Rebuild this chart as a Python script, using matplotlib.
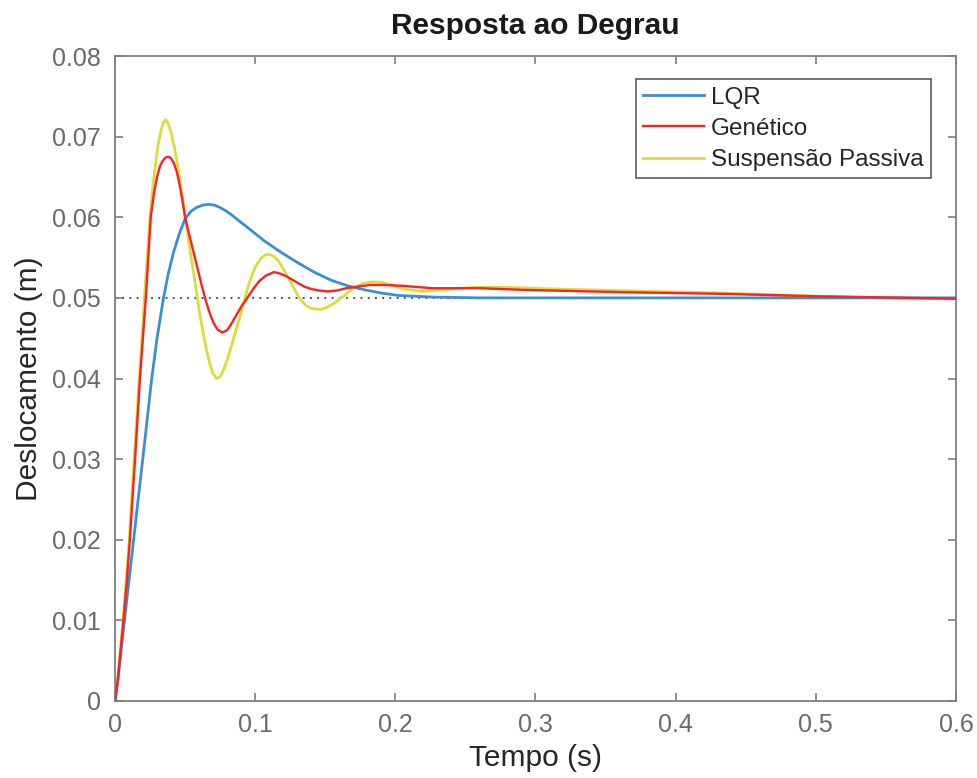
import matplotlib
matplotlib.use("Agg")
import matplotlib.pyplot as plt

plt.rcParams['font.family'] = ['Liberation Sans', 'DejaVu Sans']

# ---- data ----
t_lqr = [0, 0.002, 0.0045, 0.0068, 0.0100, 0.0133, 0.0165, 0.0198, 0.0230, 0.0262,
         0.030, 0.0346, 0.038, 0.042, 0.046, 0.050, 0.054, 0.058, 0.0625, 0.0669,
         0.071, 0.075, 0.079, 0.0824, 0.086, 0.0896, 0.097, 0.1063, 0.118, 0.130,
         0.142, 0.154, 0.166, 0.178, 0.190, 0.202, 0.214, 0.226, 0.26, 0.3, 0.4, 0.5, 0.6]
y_lqr = [0, 0.0025, 0.0065, 0.0100, 0.0150, 0.0200, 0.0250, 0.0300, 0.0350, 0.0400,
         0.0450, 0.0500, 0.0530, 0.0558, 0.0580, 0.0598, 0.0607, 0.0612, 0.0615, 0.0616,
         0.0615, 0.0612, 0.0608, 0.0604, 0.0599, 0.0594, 0.0584, 0.0571, 0.0557, 0.0544,
         0.0532, 0.0522, 0.0515, 0.0510, 0.0506, 0.0503, 0.0502, 0.0501, 0.0500, 0.0500,
         0.0500, 0.0500, 0.0500]

t_gen = [0, 0.002, 0.004, 0.0060, 0.0085, 0.0106, 0.0143, 0.0178, 0.022, 0.0255,
         0.028, 0.030, 0.032, 0.034, 0.036, 0.0382, 0.040, 0.042, 0.044, 0.046,
         0.048, 0.050, 0.053, 0.056, 0.059, 0.0615, 0.0642, 0.067, 0.070, 0.073,
         0.0765, 0.080, 0.0824, 0.086, 0.090, 0.0944, 0.099, 0.103, 0.108, 0.1135,
         0.118, 0.122, 0.126, 0.130, 0.135, 0.140, 0.146, 0.1517, 0.158, 0.165,
         0.173, 0.182, 0.192, 0.205, 0.226, 0.26, 0.29, 0.362, 0.434, 0.5, 0.6]
y_gen = [0, 0.0025, 0.0062, 0.0100, 0.0150, 0.0200, 0.0300, 0.0400, 0.0500, 0.0600,
         0.0632, 0.0650, 0.0663, 0.0670, 0.0674, 0.0675, 0.0673, 0.0667, 0.0657, 0.0641,
         0.0622, 0.0600, 0.0578, 0.0557, 0.0536, 0.0518, 0.0500, 0.0484, 0.0470, 0.0461,
         0.0457, 0.0460, 0.0466, 0.0477, 0.0489, 0.0500, 0.0512, 0.0521, 0.0528, 0.0532,
         0.0530, 0.0527, 0.0523, 0.0519, 0.0514, 0.0511, 0.0509, 0.0508, 0.0509, 0.0512,
         0.0514, 0.0516, 0.0516, 0.0515, 0.0512, 0.0512, 0.0510, 0.0507, 0.0505, 0.0502, 0.0499]

t_pas = [0, 0.002, 0.004, 0.0058, 0.008, 0.0102, 0.0136, 0.0155, 0.0173, 0.0192,
         0.0210, 0.0230, 0.0250, 0.027, 0.029, 0.031, 0.033, 0.0345, 0.0362, 0.038,
         0.040, 0.042, 0.044, 0.046, 0.048, 0.050, 0.052, 0.054, 0.0565, 0.0587,
         0.061, 0.0635, 0.066, 0.068, 0.070, 0.0725, 0.075, 0.077, 0.080, 0.083,
         0.0872, 0.090, 0.0927, 0.096, 0.100, 0.104, 0.107, 0.110, 0.113, 0.117,
         0.121, 0.126, 0.1314, 0.136, 0.140, 0.144, 0.147, 0.151, 0.156, 0.1637,
         0.170, 0.177, 0.184, 0.191, 0.199, 0.2067, 0.2186, 0.235, 0.2545, 0.28,
         0.314, 0.36, 0.434, 0.5, 0.55, 0.6]
y_pas = [0, 0.0030, 0.0068, 0.0100, 0.0150, 0.0200, 0.0300, 0.0350, 0.0400, 0.0450,
         0.0500, 0.0552, 0.0600, 0.0638, 0.0668, 0.0692, 0.0709, 0.0717, 0.0721, 0.0716,
         0.0705, 0.0690, 0.0671, 0.0650, 0.0626, 0.0600, 0.0577, 0.0554, 0.0526, 0.0500,
         0.0475, 0.0451, 0.0430, 0.0416, 0.0406, 0.0400, 0.0402, 0.0409, 0.0423, 0.0440,
         0.0465, 0.0482, 0.0500, 0.0520, 0.0538, 0.0549, 0.0553, 0.0554, 0.0552, 0.0545,
         0.0533, 0.0517, 0.0500, 0.0491, 0.0487, 0.0486, 0.0486, 0.0488, 0.0493, 0.0503,
         0.0512, 0.0518, 0.0520, 0.0519, 0.0515, 0.0511, 0.0508, 0.0510, 0.0513, 0.0513,
         0.0511, 0.0509, 0.0506, 0.0502, 0.0500, 0.0499]

steady_value = 0.05
series_labels = ['LQR', 'Genético', 'Suspensão Passiva']
x_ticks = [0, 0.1, 0.2, 0.3, 0.4, 0.5, 0.6]
x_ticklabels = ['0', '0.1', '0.2', '0.3', '0.4', '0.5', '0.6']
y_ticks = [0, 0.01, 0.02, 0.03, 0.04, 0.05, 0.06, 0.07, 0.08]
y_ticklabels = ['0', '0.01', '0.02', '0.03', '0.04', '0.05', '0.06', '0.07', '0.08']

# ---- figure ----
fig = plt.figure(figsize=(9.78, 7.78), dpi=100)
ax = fig.add_axes([115/978, (778-701)/778, (956-115)/978, (701-56)/778])

c_lqr = '#3a8fd4'
c_gen = '#ff2020'
c_pas = '#dcdc3a'

ax.plot([0, 0.6], [steady_value, steady_value], linestyle=(0, (1, 3)), color='#404040', lw=1.3, zorder=1)
ax.plot(t_lqr, y_lqr, color=c_lqr, lw=2.0, label=series_labels[0], zorder=3)
ax.plot(t_gen, y_gen, color=c_gen, lw=1.7, label=series_labels[1], zorder=3)
ax.plot(t_pas, y_pas, color=c_pas, lw=2.0, label=series_labels[2], zorder=2)

ax.set_xlim(0, 0.6)
ax.set_ylim(0, 0.08)
ax.set_xticks(x_ticks)
ax.set_xticklabels(x_ticklabels)
ax.set_yticks(y_ticks)
ax.set_yticklabels(y_ticklabels)

spine_color = '#7f7f7f'
for s in ax.spines.values():
    s.set_color(spine_color)
    s.set_linewidth(1.3)
ax.tick_params(direction='in', length=6, width=1.2, color=spine_color,
               labelcolor='#6a6a6a', labelsize=18, top=True, right=True)
ax.tick_params(axis='x', pad=9)
ax.tick_params(axis='y', pad=10)

ax.set_title('Resposta ao Degrau', fontsize=21.5, fontweight='bold', color='#1a1a1a', pad=16)
ax.set_xlabel('Tempo (s)', fontsize=21.5, color='#262626', labelpad=5)
ax.set_ylabel('Deslocamento (m)', fontsize=21.5, color='#262626', labelpad=7)

leg = ax.legend(loc='upper right', bbox_to_anchor=(0.970, 0.964), fontsize=17.5,
                frameon=True, fancybox=False, handlelength=2.5, handletextpad=0.3,
                borderpad=0.3, labelspacing=0.38, borderaxespad=0)
leg.get_frame().set_edgecolor('#333333')
leg.get_frame().set_linewidth(1.2)
for txt in leg.get_texts():
    txt.set_color('#262626')

fig.savefig('out.png', dpi=100)
